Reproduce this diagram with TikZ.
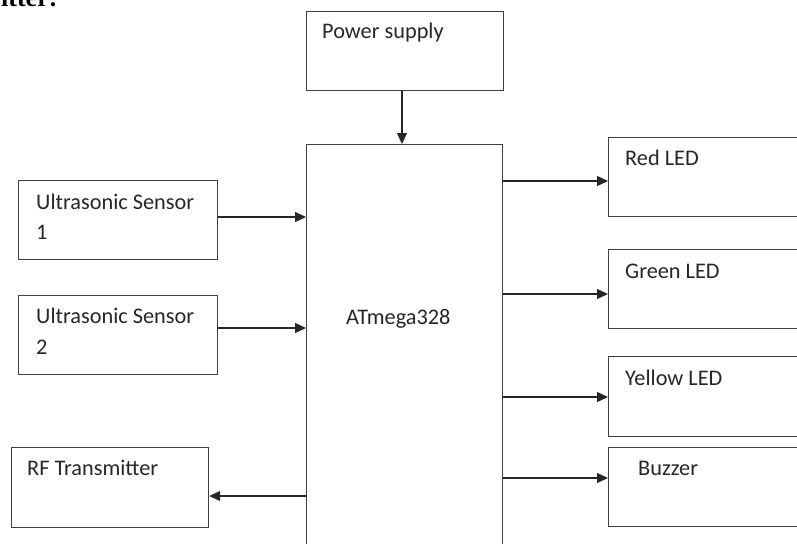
\documentclass[tikz,border=0pt]{standalone}
\usepackage{fontspec}
\setmainfont{Carlito}
\newfontfamily\titlefont{Liberation Serif}
\usetikzlibrary{arrows.meta}
\begin{document}
\begin{tikzpicture}[x=1pt,y=-1pt,
  box/.style={draw=black!75, line width=1.2pt, anchor=north west, inner sep=0pt},
  lbl/.style={anchor=base west, inner sep=0pt, font=\fontsize{22.3}{26}\selectfont, text=black!85},
  arr/.style={draw=black!85, line width=1.2pt, -{Triangle[length=11pt,width=10pt]}}]
\useasboundingbox (0,0) rectangle (797,543);
\clip (0,0) rectangle (797,543);
% title remnant
\node[anchor=base west, inner sep=0pt, font=\titlefont\bfseries\fontsize{26}{30}\selectfont] (title) at (1,6.5) {itter:};
% boxes
\node[box, minimum width=197pt, minimum height=79pt] (ps) at (306,11) {};
\node[box, minimum width=196pt, minimum height=420pt] (mcu) at (306,144) {};
\node[box, minimum width=199pt, minimum height=79pt] (us1) at (18,180) {};
\node[box, minimum width=199pt, minimum height=79pt] (us2) at (18,295) {};
\node[box, minimum width=197pt, minimum height=80pt] (rf) at (11,447) {};
\node[box, minimum width=202pt, minimum height=79pt] (red) at (608,137) {};
\node[box, minimum width=202pt, minimum height=79pt] (green) at (608,249) {};
\node[box, minimum width=202pt, minimum height=80pt] (yellow) at (608,356) {};
\node[box, minimum width=202pt, minimum height=79pt] (buzzer) at (608,447) {};
% labels
\node[lbl] (tps) at (322,39) {Power supply};
\node[lbl] (tus1a) at (36,209) {Ultrasonic Sensor};
\node[lbl] (tus1b) at (36,239) {1};
\node[lbl] (tus2a) at (36,323) {Ultrasonic Sensor};
\node[lbl] (tus2b) at (36,354) {2};
\node[lbl] (trf) at (27,475) {RF Transmitter};
\node[lbl] (tmcu) at (346,324) {ATmega328};
\node[lbl] (tred) at (625,165) {Red LED};
\node[lbl] (tgreen) at (625,278) {Green LED};
\node[lbl] (tyellow) at (625,385) {Yellow LED};
\node[lbl] (tbuzzer) at (638,475) {Buzzer};
% connectors
\draw[arr] (ps.south -| 402,0) -- (mcu.north -| 402,0);
\draw[arr] (us1.east |- 0,217) -- (mcu.west |- 0,217);
\draw[arr] (us2.east |- 0,328) -- (mcu.west |- 0,328);
\draw[arr] (mcu.west |- 0,496) -- (rf.east |- 0,496);
\draw[arr] (mcu.east |- 0,181) -- (red.west |- 0,181);
\draw[arr] (mcu.east |- 0,294) -- (green.west |- 0,294);
\draw[arr] (mcu.east |- 0,397) -- (yellow.west |- 0,397);
\draw[arr] (mcu.east |- 0,478) -- (buzzer.west |- 0,478);
\end{tikzpicture}
\end{document}
